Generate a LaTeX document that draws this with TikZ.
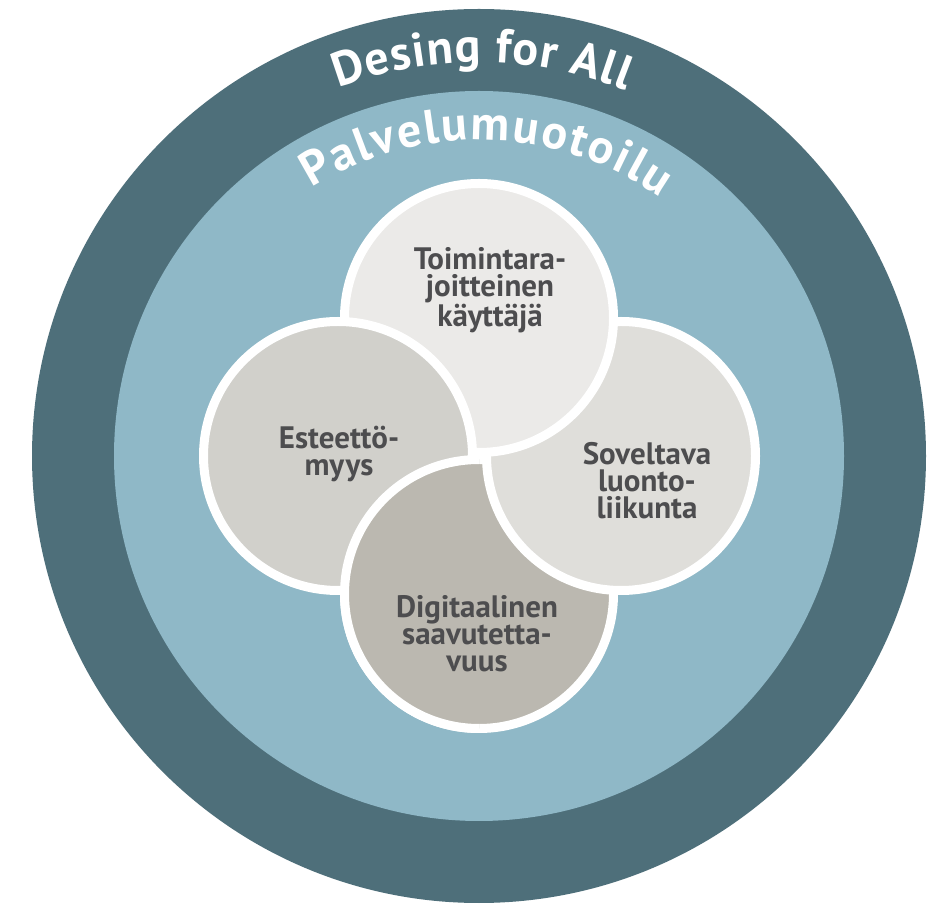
\documentclass[tikz,border=0pt]{standalone}
\usepackage{fontspec}
\setmainfont{PT Sans}
\usetikzlibrary{decorations.text}
\definecolor{ringdark}{RGB}{78,111,122}
\definecolor{ringlight}{RGB}{143,184,199}
\definecolor{ctop}{RGB}{235,234,232}
\definecolor{cleft}{RGB}{209,208,203}
\definecolor{cright}{RGB}{223,222,218}
\definecolor{cbottom}{RGB}{187,184,176}
\definecolor{txtgray}{RGB}{77,77,79}
\begin{document}
\begin{tikzpicture}[x=1pt,y=1pt,
  bubble/.style={draw=white, line width=9pt},
  label/.style={text=txtgray, font=\fontsize{31}{27}\selectfont\bfseries, align=center, inner sep=0pt},
  arctext/.style={decorate, decoration={text along path, text align=fit to path, text color=white}}
]
\useasboundingbox (0,0) rectangle (943,903);
\fill[white] (0,0) rectangle (943,903);
% rings
\fill[ringdark] (479,447) circle[radius=447];
\fill[ringlight] (479,447) circle[radius=365];
% curved titles
\path[arctext, decoration={text={|\fontsize{48}{48}\selectfont\bfseries|Desing for All}}]
  (479,447) ++(110.9:394) arc[start angle=110.9, end angle=68.2, radius=394];
\path[arctext, decoration={text={|\fontsize{48}{48}\selectfont\bfseries|Palvelumuotoilu}}]
  (479,447) ++(122:316) arc[start angle=122, end angle=55, radius=316];
% pinwheel of circles
\filldraw[cbottom, bubble] (479,309) circle[radius=134.5];
\filldraw[cright, bubble] (621,447) circle[radius=134.5];
\filldraw[ctop, bubble] (479,585) circle[radius=134.5];
\filldraw[cleft, bubble] (338,447) circle[radius=134.5];
\begin{scope}
  \clip (0,0) rectangle (479,449);
  \filldraw[cbottom, bubble] (479,309) circle[radius=134.5];
\end{scope}
% labels
\node[label] (ttop) at (490,612.5) {Toimintara-\\joitteinen\\käyttäjä};
\node[label] (tleft) at (339,449) {Esteettö-\\myys};
\node[label] (tright) at (647,422.5) {Soveltava\\luonto-\\liikunta};
\node[label] (tbottom) at (477,269.5) {Digitaalinen\\saavutetta-\\vuus};
\end{tikzpicture}
\end{document}
